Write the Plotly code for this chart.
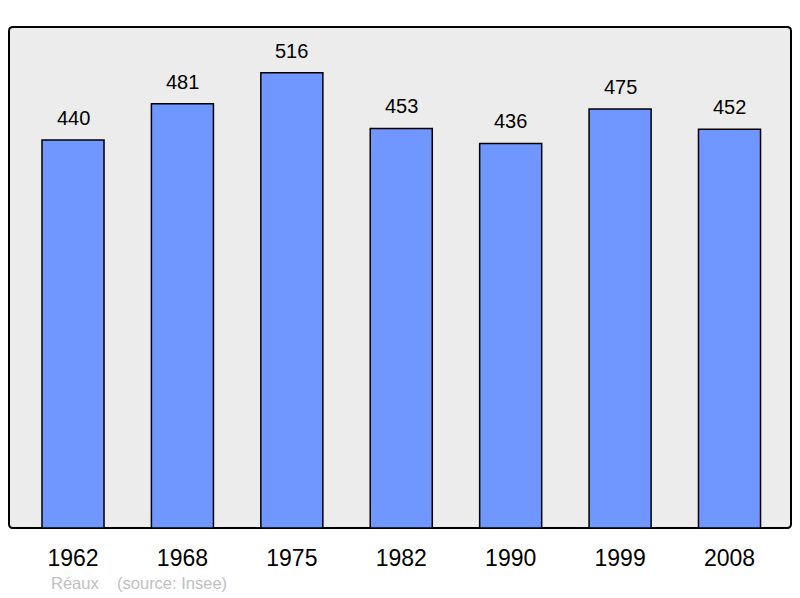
import plotly.graph_objects as go

years = ["1962", "1968", "1975", "1982", "1990", "1999", "2008"]
population = [440, 481, 516, 453, 436, 475, 452]
positions = list(range(len(years)))

BAR_COLOR = "#7096ff"
BG_COLOR = "#ececec"
FONT = "Liberation Sans, Arial, sans-serif"

# the page body keeps an 8px margin, so the figure is shifted by 8px
PLOT_W = 782
PLOT_H = 501

# rounded frame around the plot area, in paper units
rx, ry = 4 / PLOT_W, 4 / PLOT_H
frame_path = (
    f"M {rx},0 L {1 - rx},0 Q 1,0 1,{ry} L 1,{1 - ry} Q 1,1 {1 - rx},1 "
    f"L {rx},1 Q 0,1 0,{1 - ry} L 0,{ry} Q 0,0 {rx},0 Z"
)

fig = go.Figure()
fig.add_trace(
    go.Bar(
        x=positions,
        y=population,
        width=0.567,
        marker={"color": BAR_COLOR, "line": {"color": "#000000", "width": 1.5}},
        hoverinfo="skip",
    )
)

value_labels = [
    {
        "x": x,
        "y": v,
        "text": str(v),
        "xref": "x",
        "yref": "y",
        "yanchor": "bottom",
        "yshift": 9,
        "showarrow": False,
        "font": {"size": 20, "color": "#000000"},
    }
    for x, v in zip(positions, population)
]

fig.update_layout(
    width=784,
    height=590,
    margin={"l": 1, "r": 1, "t": 19, "b": 70},
    paper_bgcolor="#ffffff",
    plot_bgcolor="rgba(0,0,0,0)",
    showlegend=False,
    font={"family": FONT, "color": "#000000"},
    xaxis={
        "range": [-0.585, 6.562],
        "tickvals": positions,
        "ticktext": years,
        "tickfont": {"size": 23},
        "ticks": "outside",
        "ticklen": 9,
        "tickcolor": "rgba(0,0,0,0)",
        "showgrid": False,
        "zeroline": False,
        "fixedrange": True,
    },
    yaxis={
        "range": [0, 568],
        "visible": False,
        "showgrid": False,
        "fixedrange": True,
    },
    shapes=[
        {
            "type": "path",
            "xref": "paper",
            "yref": "paper",
            "path": frame_path,
            "line": {"color": "#000000", "width": 2},
            "fillcolor": BG_COLOR,
            "layer": "below",
        }
    ],
    annotations=value_labels
    + [
        {
            "text": "Réaux&nbsp;&nbsp;&nbsp;&nbsp;(source: Insee)",
            "xref": "paper",
            "yref": "paper",
            "x": (49 - 9) / PLOT_W,
            "y": -54.7 / PLOT_H,
            "xanchor": "left",
            "yanchor": "middle",
            "showarrow": False,
            "font": {"size": 16.5, "color": "#c0c0c0"},
        }
    ],
)

fig.write_html("out.html")
